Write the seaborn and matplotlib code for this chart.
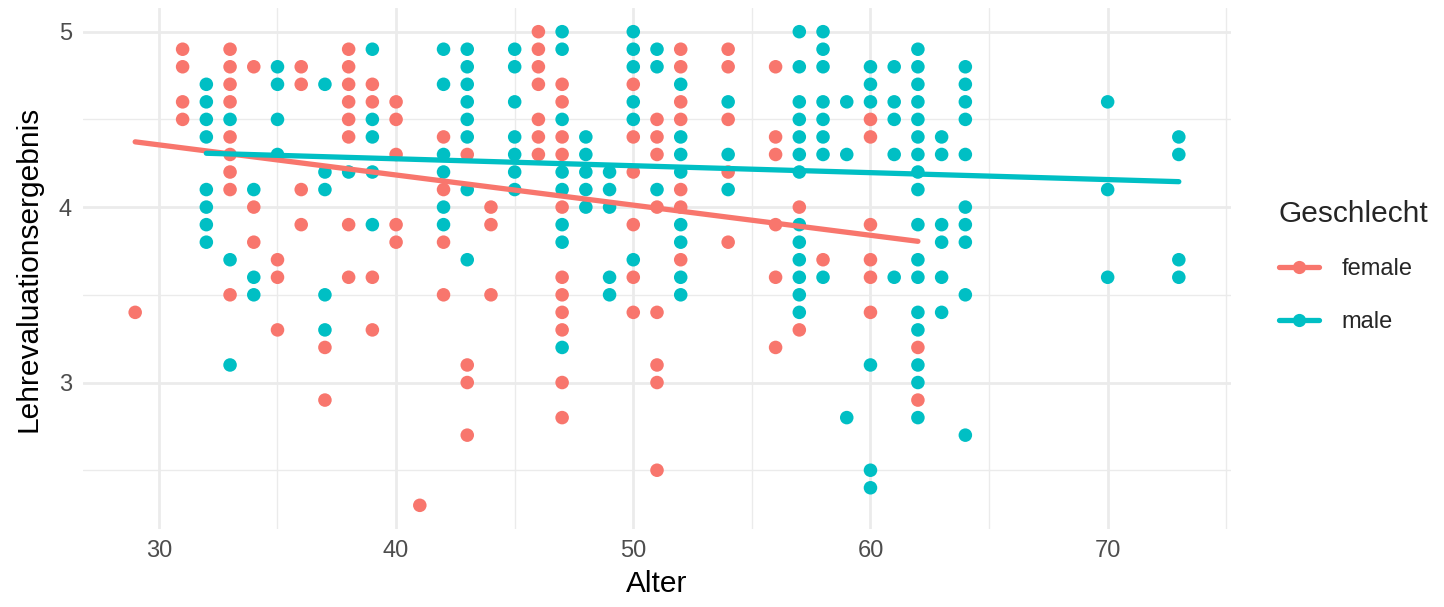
import matplotlib
matplotlib.use("Agg")
import matplotlib.pyplot as plt
from matplotlib.lines import Line2D
from matplotlib.ticker import MultipleLocator
import seaborn as sns
import pandas as pd

# ---- data ----
female_age = ([29] + [31]*4 + [33]*9 + [34]*3 + [35]*3 + [36]*4 + [37]*2 + [38]*8 + [39]*4 +
              [40]*5 + [41] + [42]*4 + [43]*4 + [44]*3 + [46]*7 + [47]*11 + [50]*6 + [51]*8 +
              [52]*7 + [54]*5 + [56]*6 + [57]*2 + [58] + [60]*6 + [62]*2)
female_score = ([3.4] +
                [4.9, 4.8, 4.6, 4.5] +
                [4.9, 4.8, 4.7, 4.6, 4.4, 4.3, 4.2, 4.1, 3.5] +
                [4.8, 4.0, 3.8] +
                [3.7, 3.6, 3.3] +
                [4.8, 4.7, 4.1, 3.9] +
                [3.2, 2.9] +
                [4.9, 4.8, 4.7, 4.6, 4.5, 4.4, 3.9, 3.6] +
                [4.7, 4.6, 3.6, 3.3] +
                [4.6, 4.5, 4.3, 3.9, 3.8] +
                [2.3] +
                [4.4, 4.1, 3.8, 3.5] +
                [4.3, 3.1, 3.0, 2.7] +
                [4.0, 3.9, 3.5] +
                [5.0, 4.9, 4.8, 4.7, 4.5, 4.4, 4.3] +
                [4.7, 4.6, 4.4, 4.3, 4.0, 3.6, 3.5, 3.4, 3.3, 3.0, 2.8] +
                [4.7, 4.4, 4.2, 3.9, 3.6, 3.4] +
                [4.5, 4.4, 4.3, 4.0, 3.4, 3.1, 3.0, 2.5] +
                [4.9, 4.8, 4.6, 4.5, 4.1, 4.0, 3.7] +
                [4.9, 4.8, 4.5, 4.2, 3.8] +
                [4.8, 4.4, 4.3, 3.9, 3.6, 3.2] +
                [4.0, 3.3] +
                [3.7] +
                [4.5, 4.4, 3.9, 3.7, 3.6, 3.4] +
                [3.2, 2.9])

male_age = ([32]*8 + [33]*3 + [34]*3 + [35]*4 + [37]*5 + [38] + [39]*5 + [42]*6 + [43]*8 +
            [45]*7 + [47]*8 + [48]*5 + [49]*5 + [50]*6 + [51]*3 + [52]*8 + [54]*3 + [57]*13 +
            [58]*8 + [59]*3 + [60]*6 + [61]*5 + [62]*17 + [63]*6 + [64]*10 + [70]*3 + [73]*4)
male_score = ([4.7, 4.6, 4.5, 4.4, 4.1, 4.0, 3.9, 3.8] +
              [4.5, 3.7, 3.1] +
              [4.1, 3.6, 3.5] +
              [4.8, 4.7, 4.5, 4.3] +
              [4.7, 4.2, 4.1, 3.5, 3.3] +
              [4.2] +
              [4.9, 4.5, 4.4, 4.2, 3.9] +
              [4.9, 4.7, 4.3, 4.2, 4.0, 3.9] +
              [4.9, 4.8, 4.7, 4.6, 4.5, 4.4, 4.1, 3.7] +
              [4.9, 4.8, 4.6, 4.4, 4.3, 4.2, 4.1] +
              [5.0, 4.9, 4.5, 4.2, 4.1, 3.9, 3.8, 3.2] +
              [4.4, 4.3, 4.2, 4.1, 4.0] +
              [4.2, 4.1, 4.0, 3.6, 3.5] +
              [5.0, 4.9, 4.8, 4.6, 4.5, 3.7] +
              [4.9, 4.8, 4.1] +
              [4.7, 4.4, 4.3, 4.2, 3.9, 3.8, 3.6, 3.5] +
              [4.6, 4.3, 4.1] +
              [5.0, 4.8, 4.6, 4.5, 4.4, 4.3, 4.2, 3.9, 3.8, 3.7, 3.6, 3.5, 3.4] +
              [5.0, 4.9, 4.8, 4.6, 4.5, 4.4, 4.3, 3.6] +
              [4.6, 4.3, 2.8] +
              [4.8, 4.7, 4.6, 3.1, 2.5, 2.4] +
              [4.8, 4.6, 4.5, 4.3, 3.6] +
              [4.9, 4.8, 4.7, 4.6, 4.5, 4.4, 4.3, 4.2, 4.1, 3.9, 3.7, 3.6, 3.4, 3.3, 3.1, 3.0, 2.8] +
              [4.4, 4.3, 3.9, 3.8, 3.6, 3.4] +
              [4.8, 4.7, 4.6, 4.5, 4.3, 4.0, 3.9, 3.8, 3.5, 2.7] +
              [4.6, 4.1, 3.6] +
              [4.4, 4.3, 3.7, 3.6])

# linear-fit lines (value at youngest / oldest age of each group;
# the original fit used the full data set, in which many points overlap)
female_fit_score = [4.372, 3.805]
male_fit_score = [4.307, 4.145]

genders = ["female", "male"]
colors = ["#F8766D", "#00BFC4"]
x_ticks = [30, 40, 50, 60, 70]
y_ticks = [3, 4, 5]
x_label = "Alter"
y_label = "Lehrevaluationsergebnis"
legend_title = "Geschlecht"

df = pd.concat([
    pd.DataFrame({"age": female_age, "score": female_score, "gender": "female"}),
    pd.DataFrame({"age": male_age, "score": male_score, "gender": "male"}),
], ignore_index=True)

fit_df = pd.concat([
    pd.DataFrame({"age": [min(female_age), max(female_age)], "score": female_fit_score,
                  "gender": "female"}),
    pd.DataFrame({"age": [min(male_age), max(male_age)], "score": male_fit_score,
                  "gender": "male"}),
], ignore_index=True)

sns.set_theme(style="white")
plt.rcParams["font.family"] = ["Liberation Sans", "DejaVu Sans"]

fig = plt.figure(figsize=(14.44, 6.07), dpi=100)
ax = fig.add_axes([83/1444, 1 - 529/607, (1231 - 83)/1444, (529 - 8)/607])

palette = dict(zip(genders, colors))
sns.scatterplot(data=df, x="age", y="score", hue="gender", palette=palette,
                s=95, linewidth=0, ax=ax, legend=False, zorder=3)
sns.lineplot(data=fit_df, x="age", y="score", hue="gender", palette=palette,
             linewidth=3.8, ax=ax, legend=False, zorder=4, estimator=None)

ax.set_xlim(26.8, 75.2)
ax.set_ylim(2.165, 5.135)
ax.set_xticks(x_ticks)
ax.set_yticks(y_ticks)
ax.xaxis.set_minor_locator(MultipleLocator(5))
ax.yaxis.set_minor_locator(MultipleLocator(0.5))
ax.grid(which="major", color="#EBEBEB", linewidth=2.0)
ax.grid(which="minor", color="#EBEBEB", linewidth=1.0)
ax.set_axisbelow(True)
for sp in ax.spines.values():
    sp.set_visible(False)
ax.tick_params(axis="both", which="both", length=0, labelsize=17, labelcolor="#4D4D4D", pad=8)
ax.set_xlabel(x_label, fontsize=21.5, color="black", labelpad=6)
ax.set_ylabel(y_label, fontsize=21.5, color="black", labelpad=12)

handles = [Line2D([0], [0], color=c, linewidth=3.8, marker="o", markersize=9.5,
                  markeredgewidth=0) for c in colors]
leg = fig.legend(handles, genders, title=legend_title, loc="upper left",
                 bbox_to_anchor=(1279/1444, 1 - 200/607), frameon=False,
                 fontsize=17, title_fontsize=21.5, handlelength=1.7,
                 labelspacing=1.29, handletextpad=0.95, borderaxespad=0, borderpad=0)
leg._legend_box.align = "left"

fig.savefig("out.png", dpi=100)
